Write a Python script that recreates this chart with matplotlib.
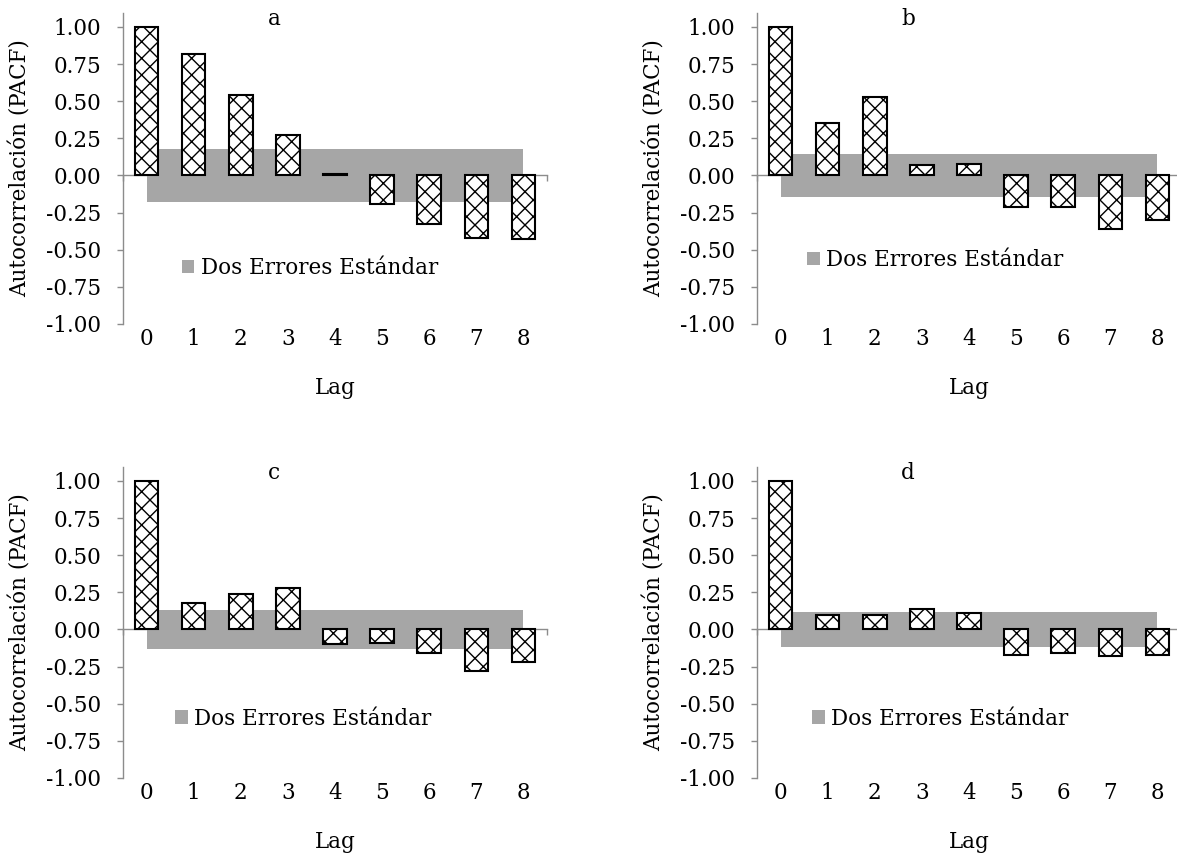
import matplotlib

matplotlib.use("Agg")
import matplotlib.pyplot as plt
import numpy as np
from matplotlib.patches import Patch

plt.rcParams["font.family"] = ["DejaVu Serif"]
plt.rcParams["axes.unicode_minus"] = False
plt.rcParams["hatch.linewidth"] = 1.0

LAGS = [0, 1, 2, 3, 4, 5, 6, 7, 8]
PANEL_LABELS = ["a", "b", "c", "d"]
PACF_A = [1.00, 0.82, 0.54, 0.27, 0.01, -0.19, -0.33, -0.42, -0.43]
PACF_B = [1.00, 0.35, 0.53, 0.07, 0.08, -0.21, -0.21, -0.36, -0.30]
PACF_C = [1.00, 0.18, 0.24, 0.28, -0.10, -0.09, -0.16, -0.28, -0.22]
PACF_D = [1.00, 0.10, 0.10, 0.14, 0.11, -0.17, -0.16, -0.18, -0.17]
BANDS = [0.18, 0.145, 0.13, 0.12]
Y_TICKS = [-1.00, -0.75, -0.50, -0.25, 0.00, 0.25, 0.50, 0.75, 1.00]

AXIS_GREY = "#8c8c8c"
BAND_GREY = "#a6a6a6"
FS = 15.5

W, H = 1177, 856
fig = plt.figure(figsize=(W / 100, H / 100), dpi=100)

# panel geometry in pixels: (left spine x, bottom y of -1.00)
panel_px = [(123, 324), (757, 324), (123, 778), (757, 778)]
ax_w_px = 424
ax_h_px = 311
legend_pos = [(0.138, 0.18), (0.118, 0.205), (0.122, 0.19), (0.13, 0.19)]


def draw_panel(ax, values, band, label, leg_xy):
    ax.fill_between([LAGS[0], LAGS[-1]], -band, band, color=BAND_GREY, linewidth=0, zorder=1)
    ax.bar(LAGS, values, width=0.5, color="white", edgecolor="black", linewidth=1.5,
           hatch="xx", zorder=3)
    ax.set_xlim(-0.5, 8.5)
    ax.set_ylim(-1.0, 1.094)

    for side in ["top", "right", "bottom"]:
        ax.spines[side].set_visible(False)
    ax.spines["left"].set_color(AXIS_GREY)
    ax.spines["left"].set_linewidth(1.0)

    ax.set_yticks(Y_TICKS)
    ax.set_yticklabels([f"{v:.2f}" for v in Y_TICKS])
    ax.tick_params(axis="y", length=4.5, width=1.0, color=AXIS_GREY, pad=11, labelsize=FS)
    ax.set_xticks(LAGS)
    ax.set_xticklabels([str(v) for v in LAGS])
    ax.tick_params(axis="x", length=0, pad=3, labelsize=FS)

    # zero line with category boundary ticks
    sec = ax.secondary_xaxis(0, transform=ax.transData)
    sec.set_xticks(np.arange(-0.5, 9.0, 1.0))
    sec.tick_params(axis="x", direction="out", length=4.5, width=1.0, color=AXIS_GREY,
                    labelbottom=False)
    sec.spines["bottom"].set_color(AXIS_GREY)
    sec.spines["bottom"].set_linewidth(1.0)

    ax.set_xlabel("Lag", fontsize=FS, labelpad=19)
    ax.set_ylabel("Autocorrelación (PACF)", fontsize=FS)
    ax.yaxis.set_label_coords(-0.215, 0.5)
    ax.text(0.356, 0.961, label, transform=ax.transAxes, ha="center", va="baseline", fontsize=FS)

    handle = Patch(facecolor=BAND_GREY, edgecolor="none")
    ax.legend([handle], ["Dos Errores Estándar"], loc="center left", bbox_to_anchor=leg_xy,
              frameon=False, fontsize=FS, handlelength=0.6, handleheight=0.6,
              handletextpad=0.3, borderpad=0, borderaxespad=0)


series = [PACF_A, PACF_B, PACF_C, PACF_D]
for i in range(4):
    x0, yb = panel_px[i]
    ax = fig.add_axes([x0 / W, (H - yb) / H, ax_w_px / W, ax_h_px / H])
    draw_panel(ax, series[i], BANDS[i], PANEL_LABELS[i], legend_pos[i])

fig.savefig("out.png", dpi=100)
